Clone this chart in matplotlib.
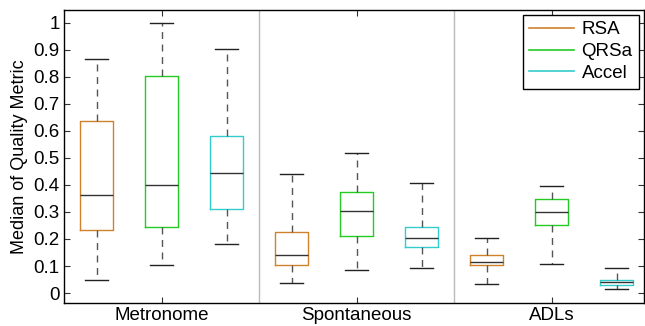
import matplotlib
matplotlib.use("Agg")
import matplotlib.pyplot as plt
from matplotlib.lines import Line2D

plt.rcParams['font.family'] = ['Liberation Sans', 'DejaVu Sans']

# data: whisker low, Q1, median, Q3, whisker high
groups = ['Metronome', 'Spontaneous', 'ADLs']
series = ['RSA', 'QRSa', 'Accel']
colors = ['#D0822A', '#22CC22', '#33CCCC']

rsa_stats = [[0.049, 0.234, 0.362, 0.636, 0.865],
             [0.037, 0.103, 0.140, 0.225, 0.440],
             [0.035, 0.103, 0.115, 0.140, 0.203]]
qrsa_stats = [[0.103, 0.244, 0.399, 0.802, 1.000],
              [0.086, 0.211, 0.305, 0.373, 0.518],
              [0.107, 0.251, 0.300, 0.347, 0.397]]
accel_stats = [[0.182, 0.310, 0.445, 0.581, 0.904],
               [0.091, 0.170, 0.204, 0.245, 0.409],
               [0.013, 0.031, 0.041, 0.050, 0.092]]
all_stats = [rsa_stats, qrsa_stats, accel_stats]

fig = plt.figure(figsize=(6.45, 3.26), dpi=100)
ax = fig.add_axes([64/645, 23/326, 580/645, 293/326])

offsets = [-1/3, 0, 1/3]
for s, (st, col) in enumerate(zip(all_stats, colors)):
    bstats = []
    for g in range(len(groups)):
        lo, q1, med, q3, hi = st[g]
        bstats.append(dict(whislo=lo, q1=q1, med=med, q3=q3, whishi=hi, fliers=[]))
    pos = [g + 1 + offsets[s] for g in range(len(groups))]
    ax.bxp(bstats, positions=pos, widths=0.17, showfliers=False,
           boxprops=dict(color=col, linewidth=1.0),
           medianprops=dict(color='#333333', linewidth=1.0),
           whiskerprops=dict(color='#555555', linestyle=(0, (5, 4)), linewidth=1.0),
           capprops=dict(color='#222222', linewidth=1.0),
           capwidths=0.12)

for xs in [1.5, 2.5]:
    ax.axvline(xs, color='#bbbbbb', linewidth=1.0, zorder=0)

ax.set_xlim(0.5, 0.5 + 580/195)
ax.set_ylim(-0.037, 1.048)
ax.set_xticks([1, 2, 3])
ax.set_xticklabels(groups, fontsize=13.5)
ax.set_yticks([i/10 for i in range(11)])
ax.set_yticklabels(['0'] + ['0.%d' % i for i in range(1, 10)] + ['1'], fontsize=13.5)
ax.tick_params(direction='in', top=True, right=True, length=4, color='#333333', pad=3)
ax.set_ylabel('Median of Quality Metric', fontsize=13, labelpad=4)
for sp in ax.spines.values():
    sp.set_linewidth(1.0)

handles = [Line2D([0], [0], color=c, linewidth=1.2) for c in colors]
leg = ax.legend(handles, series, loc='upper right', fontsize=13.5, fancybox=False,
                framealpha=1, edgecolor='black', handlelength=2.4, handletextpad=0.4,
                borderaxespad=0.25, labelspacing=0.25, borderpad=0.35)
leg.get_frame().set_linewidth(1.0)

fig.savefig('out.png', dpi=100)
